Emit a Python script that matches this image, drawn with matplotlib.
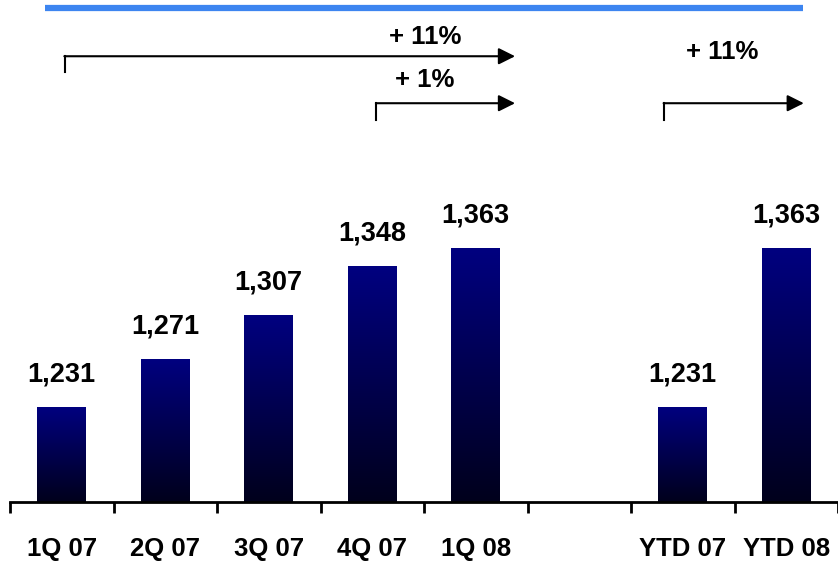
import matplotlib
matplotlib.use('Agg')
from matplotlib import pyplot as plt
from matplotlib.colors import LinearSegmentedColormap
import numpy as np

# data
categories = ['1Q 07', '2Q 07', '3Q 07', '4Q 07', '1Q 08', '', 'YTD 07', 'YTD 08']
values = [1231, 1271, 1307, 1348, 1363, None, 1231, 1363]
growth_labels = ['+ 11%', '+ 1%', '+ 11%']

plt.rcParams['font.family'] = ['Liberation Sans', 'DejaVu Sans']
plt.rcParams['font.weight'] = 'bold'

fig = plt.figure(figsize=(8.38, 5.61), dpi=100)
ax = fig.add_axes([10 / 838, 59 / 561, 828 / 838, 502 / 561])
ax.set_xlim(-0.5, len(categories) - 0.5)
ax.set_ylim(1152, 1569)

cmap = LinearSegmentedColormap.from_list('navy', ['#00001c', '#000080'])
grad = np.linspace(0, 1, 256).reshape(-1, 1)

xs = [i for i, v in enumerate(values) if v is not None]
vals = [v for v in values if v is not None]
bars = ax.bar(xs, [v - 1152 for v in vals], bottom=1152, width=0.47,
              color='none', edgecolor='none')
for b, v in zip(bars, vals):
    x0 = b.get_x()
    im = ax.imshow(grad, extent=(x0, x0 + b.get_width(), 1152, v), origin='lower',
                   cmap=cmap, aspect='auto', zorder=2)
    im.set_clip_path(b)
    ax.annotate(f'{v:,}', (b.get_x() + b.get_width() / 2, v), xytext=(0, 14),
                textcoords='offset points', ha='center', va='bottom',
                fontsize=19.5, fontweight='bold')

# axis styling
for s in ['top', 'right', 'left']:
    ax.spines[s].set_visible(False)
ax.spines['bottom'].set_linewidth(2)
ax.set_yticks([])
ax.set_xticks(range(len(categories)))
ax.set_xticklabels(categories, fontsize=18.5, fontweight='bold')
ax.tick_params(axis='x', which='major', length=0, pad=25)
ax.set_xticks(np.arange(-0.5, len(categories)), minor=True)
ax.tick_params(axis='x', which='minor', length=8, width=2, direction='out')

# blue rule at the top
ax.plot([-0.16, 7.16], [1562, 1562], color='#3d85f0', lw=4.5, clip_on=False,
        solid_capstyle='butt')

# growth arrows
def bracket(x0, x1, y, drop, text, tx, ty):
    ax.plot([x0, x0], [y - drop, y], color='black', lw=1.5, clip_on=False)
    ax.annotate('', xy=(x1, y), xytext=(x0 - 0.005, y),
                arrowprops=dict(arrowstyle='-|>', color='black', lw=1.5,
                                mutation_scale=25, shrinkA=0, shrinkB=0))
    ax.text(tx, ty, text, ha='center', va='center', fontsize=18.5,
            fontweight='bold')

bracket(0.03, 4.38, 1152 + (502 - 56) / 1.2045, 13, growth_labels[0],
        3.51, 1152 + (502 - 37) / 1.2045)
bracket(3.04, 4.38, 1152 + (502 - 103) / 1.2045, 14, growth_labels[1],
        3.51, 1152 + (502 - 80) / 1.2045)
bracket(5.82, 7.17, 1152 + (502 - 103) / 1.2045, 14, growth_labels[2],
        6.38, 1152 + (502 - 52) / 1.2045)

fig.savefig('out.png', dpi=100)
